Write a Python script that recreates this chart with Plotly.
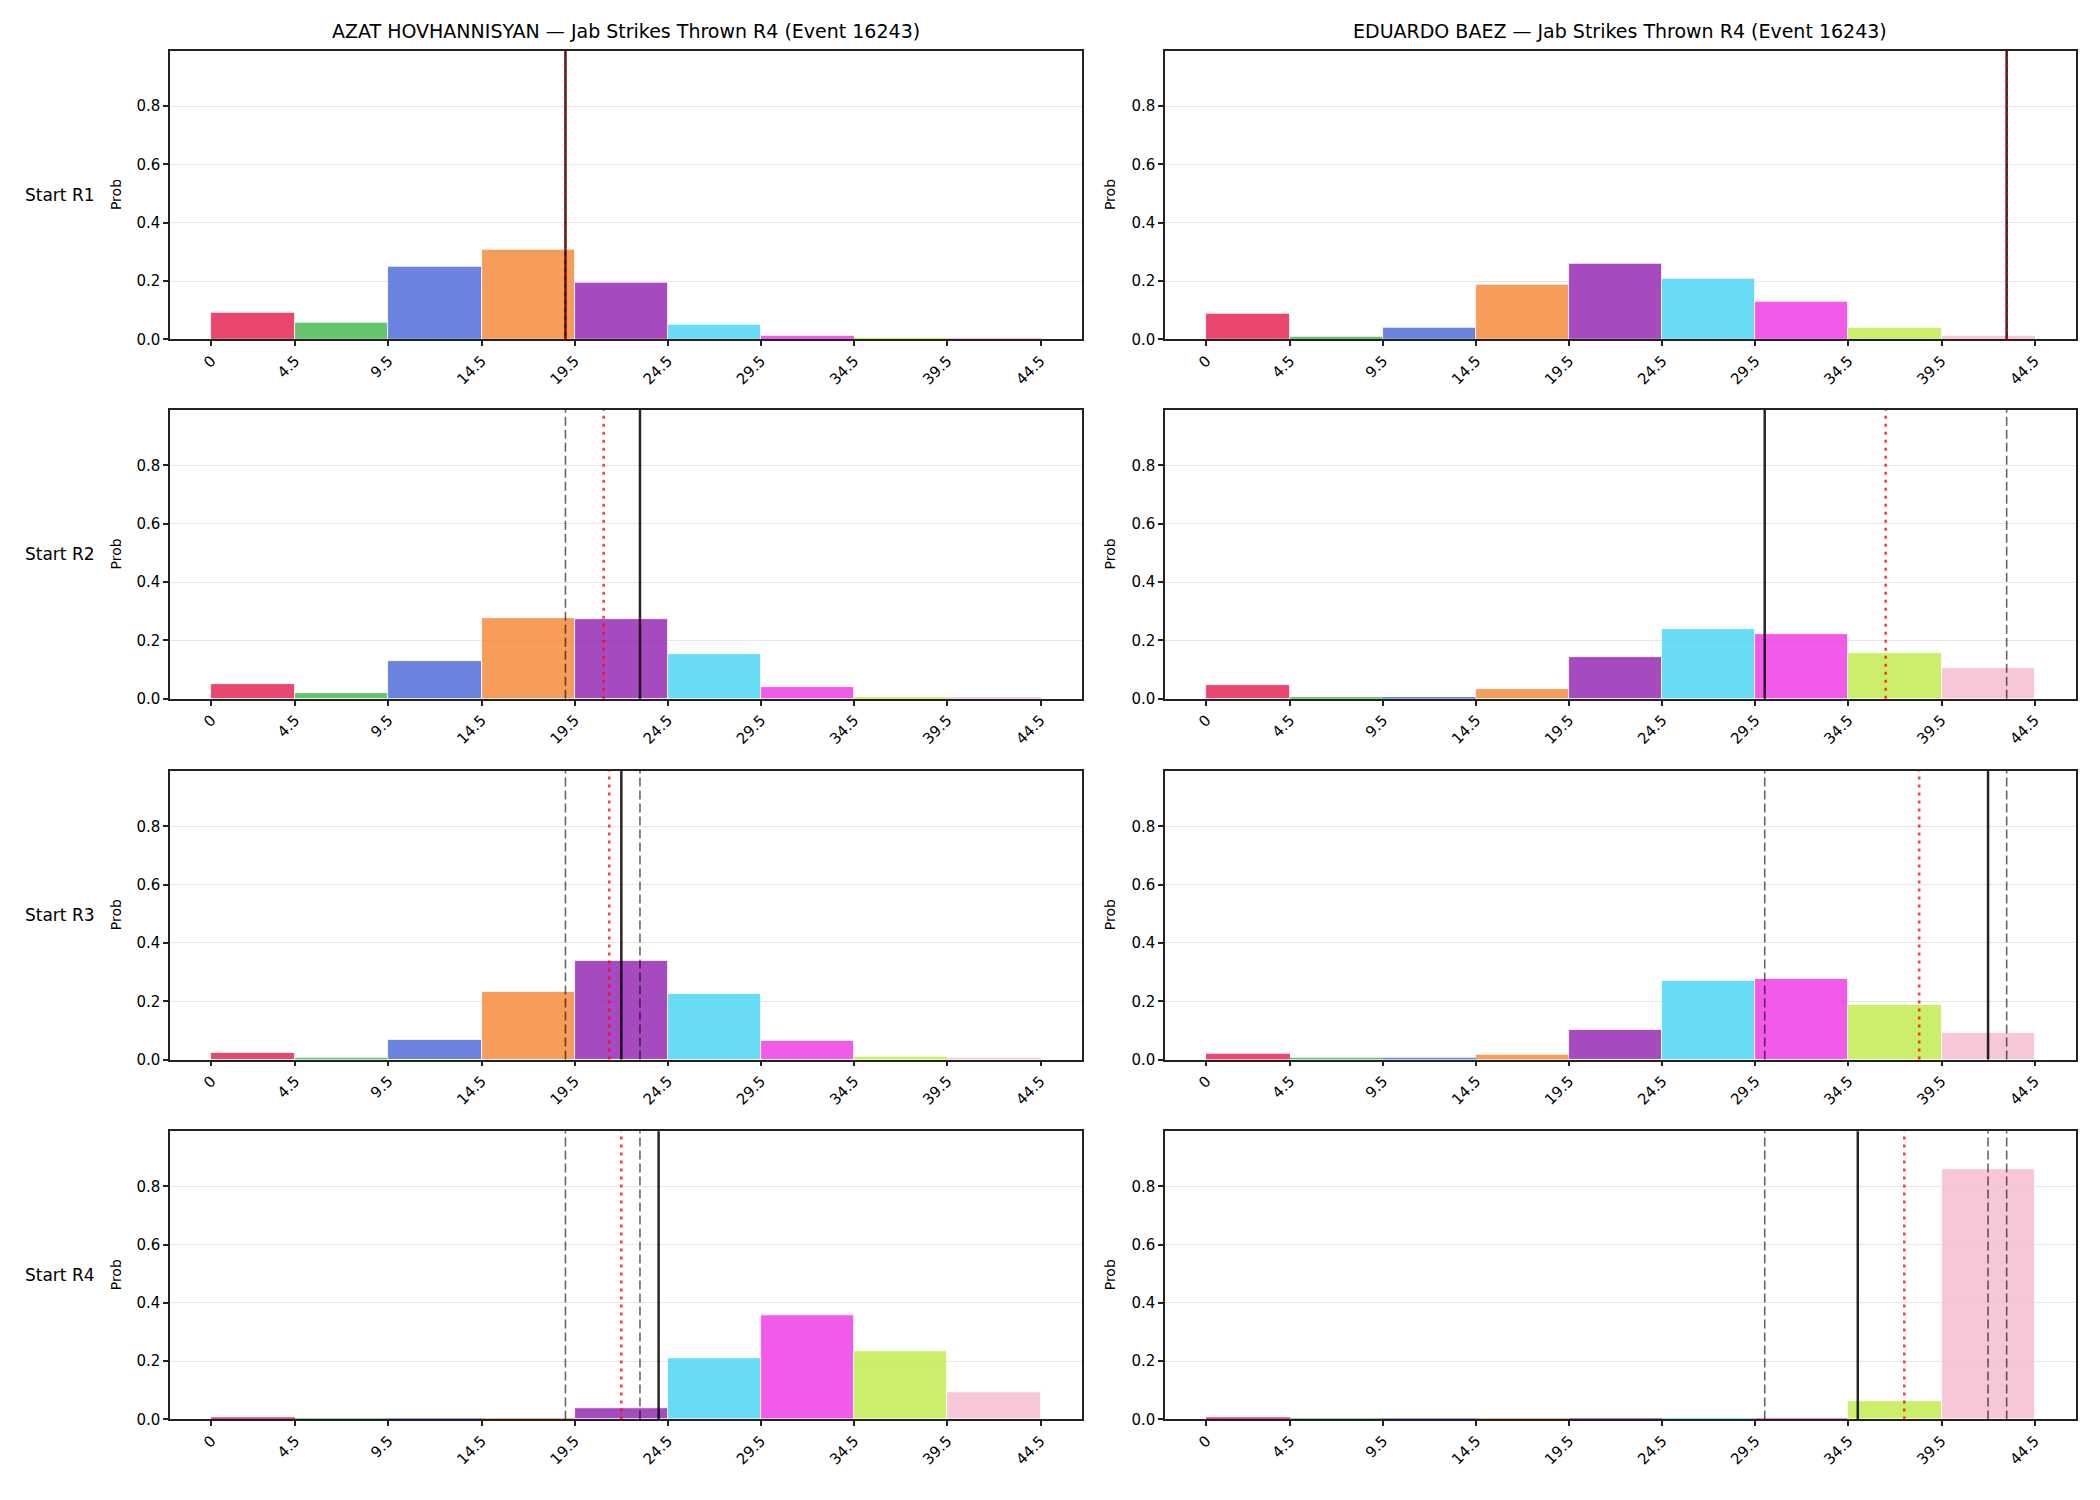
import plotly.graph_objects as go

# ---------------- data ----------------
BIN_EDGES = [0, 4.5, 9.5, 14.5, 19.5, 24.5, 29.5, 34.5, 39.5, 44.5]
TICK_LABELS = ["0", "4.5", "9.5", "14.5", "19.5", "24.5", "29.5", "34.5", "39.5", "44.5"]
ROW_LABELS = ["Start R1", "Start R2", "Start R3", "Start R4"]
FIGHTERS = ["AZAT HOVHANNISYAN", "EDUARDO BAEZ"]
TITLE_SUFFIX = " — Jab Strikes Thrown R4 (Event 16243)"

BIN_COLORS = ["#E51A4C", "#40B54A", "#4565D7", "#F48532", "#901FAF",
              "#43D2F3", "#EF32E4", "#BEEC45", "#F6BACE"]

# probabilities per bin, one list per starting round
AZAT_R1 = [0.093, 0.058, 0.249, 0.307, 0.195, 0.051, 0.014, 0.006, 0.005]
AZAT_R2 = [0.051, 0.020, 0.128, 0.278, 0.272, 0.152, 0.041, 0.006, 0.005]
AZAT_R3 = [0.022, 0.006, 0.067, 0.234, 0.337, 0.224, 0.064, 0.008, 0.004]
AZAT_R4 = [0.007, 0.005, 0.005, 0.005, 0.040, 0.210, 0.357, 0.234, 0.094]

BAEZ_R1 = [0.089, 0.009, 0.041, 0.189, 0.259, 0.208, 0.130, 0.041, 0.013]
BAEZ_R2 = [0.046, 0.006, 0.006, 0.032, 0.143, 0.239, 0.222, 0.156, 0.105]
BAEZ_R3 = [0.019, 0.006, 0.006, 0.015, 0.102, 0.270, 0.277, 0.187, 0.091]
BAEZ_R4 = [0.007, 0.005, 0.005, 0.005, 0.005, 0.005, 0.005, 0.064, 0.858]

# reference lines (x positions)
AZAT_SOLID = [19.0, 23.0, 22.0, 24.0]
AZAT_DOTTED = [19.0, 21.05, 21.35, 22.0]
AZAT_DASHED = [[], [19.0], [19.0, 23.0], [19.0, 23.0]]
BAEZ_SOLID = [43.0, 30.0, 42.0, 35.0]
BAEZ_DOTTED = [43.0, 36.5, 38.3, 37.5]
BAEZ_DASHED = [[], [43.0], [30.0, 43.0], [30.0, 42.0, 43.0]]

Y_MAX = 0.99

# ---------------- layout geometry ----------------
W, H = 2100, 1500
COL_X = [(170, 1082), (1165, 2076)]
ROW_Y = [(51, 341.5), (412.5, 703), (775.5, 1066), (1138, 1428)]
PROB_X = [116, 1110]

data = {0: [AZAT_R1, AZAT_R2, AZAT_R3, AZAT_R4], 1: [BAEZ_R1, BAEZ_R2, BAEZ_R3, BAEZ_R4]}
solid = {0: AZAT_SOLID, 1: BAEZ_SOLID}
dotted = {0: AZAT_DOTTED, 1: BAEZ_DOTTED}
dashed = {0: AZAT_DASHED, 1: BAEZ_DASHED}

centers = [(BIN_EDGES[i] + BIN_EDGES[i + 1]) / 2 for i in range(len(BIN_EDGES) - 1)]
widths = [BIN_EDGES[i + 1] - BIN_EDGES[i] for i in range(len(BIN_EDGES) - 1)]
span = BIN_EDGES[-1] - BIN_EDGES[0]
x_range = [BIN_EDGES[0] - 0.05 * span, BIN_EDGES[-1] + 0.05 * span]

FONT = "DejaVu Sans"
fig = go.Figure()
layout = dict(
    width=W, height=H, margin=dict(l=0, r=0, t=0, b=0),
    paper_bgcolor="white", plot_bgcolor="white",
    showlegend=False, font=dict(family=FONT, color="#000", size=14),
    bargap=0,
)
shapes = []
annotations = []

idx = 0
for r in range(4):
    for c in range(2):
        idx += 1
        sfx = "" if idx == 1 else str(idx)
        xa, ya = "x" + sfx, "y" + sfx
        vals = data[c][r]
        edge_w = [0.8 if v >= 0.02 else 0 for v in vals]
        fig.add_trace(go.Bar(
            x=centers, y=vals, width=widths, xaxis=xa, yaxis=ya,
            marker=dict(color=BIN_COLORS, opacity=0.8,
                        line=dict(color="white", width=edge_w)),
            hoverinfo="x+y",
        ))
        x0, x1 = COL_X[c]
        y0, y1 = ROW_Y[r]
        layout["xaxis" + sfx] = dict(
            domain=[x0 / W, x1 / W], anchor=ya, range=x_range,
            tickmode="array", tickvals=BIN_EDGES, ticktext=TICK_LABELS,
            tickangle=-45, ticks="outside", ticklen=5, tickwidth=1.5,
            tickcolor="#222", showline=True, linecolor="#222", linewidth=1.5,
            mirror=True, showgrid=False, zeroline=False,
            tickfont=dict(size=15, family=FONT, color="#000"),
        )
        layout["yaxis" + sfx] = dict(
            domain=[1 - y1 / H, 1 - y0 / H], anchor=xa, range=[0, Y_MAX],
            tickmode="array", tickvals=[0, 0.2, 0.4, 0.6, 0.8],
            ticktext=["0.0", "0.2", "0.4", "0.6", "0.8"],
            ticks="outside", ticklen=5, tickwidth=1.5, tickcolor="#222",
            showline=True, linecolor="#222", linewidth=1.5, mirror=True,
            showgrid=True, gridcolor="#e6e6e6", gridwidth=1, zeroline=False,
            tickfont=dict(size=15, family=FONT, color="#000"),
        )
        # reference lines
        for xv in dashed[c][r]:
            shapes.append(dict(type="line", xref=xa, yref=ya + " domain",
                               x0=xv, x1=xv, y0=0, y1=1,
                               line=dict(color="rgba(0,0,0,0.6)", width=1.6, dash="9px,4px")))
        xv = solid[c][r]
        shapes.append(dict(type="line", xref=xa, yref=ya + " domain",
                           x0=xv, x1=xv, y0=0, y1=1,
                           line=dict(color="rgba(0,0,0,0.85)", width=2.5)))
        xv = dotted[c][r]
        shapes.append(dict(type="line", xref=xa, yref=ya + " domain",
                           x0=xv, x1=xv, y0=0, y1=1,
                           line=dict(color="rgba(255,0,0,0.75)", width=2.6, dash="3px,5px")))
        # Prob label
        annotations.append(dict(
            text="Prob", xref="paper", yref="paper",
            x=PROB_X[c] / W, y=1 - (y0 + y1) / 2 / H, textangle=-90,
            showarrow=False, xanchor="center", yanchor="middle",
            font=dict(size=14, family=FONT, color="#000"),
        ))
        if r == 0:
            annotations.append(dict(
                text=FIGHTERS[c] + TITLE_SUFFIX, xref="paper", yref="paper",
                x=(x0 + x1) / 2 / W, y=1 - 31 / H, showarrow=False,
                xanchor="center", yanchor="middle",
                font=dict(size=19, family=FONT, color="#000"),
            ))
    y0, y1 = ROW_Y[r]
    annotations.append(dict(
        text=ROW_LABELS[r], xref="paper", yref="paper",
        x=23 / W, y=1 - (y0 + y1) / 2 / H, showarrow=False,
        xanchor="left", yanchor="middle",
        font=dict(size=17, family=FONT, color="#000"),
    ))

layout["shapes"] = shapes
layout["annotations"] = annotations
fig.update_layout(**layout)
fig.write_html("out.html")
